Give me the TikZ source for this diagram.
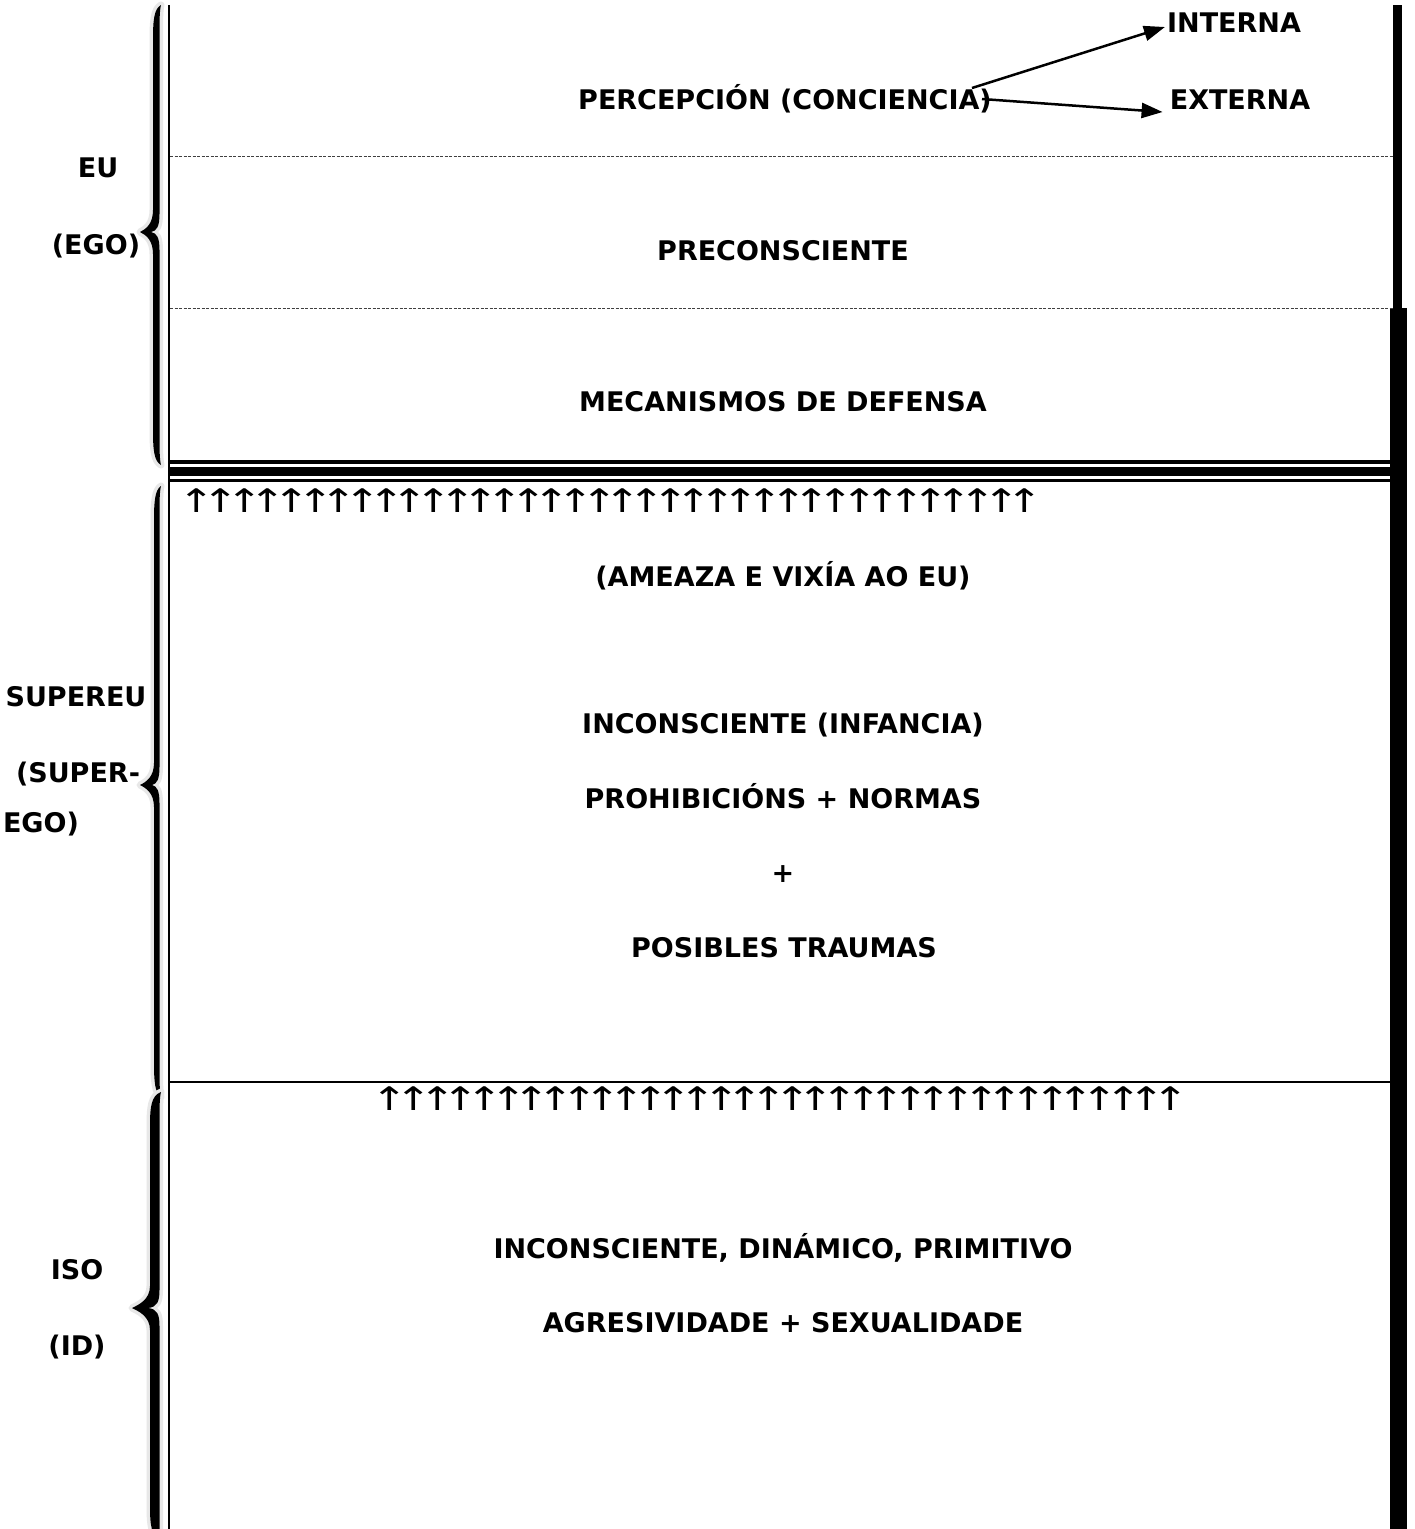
\documentclass[tikz,border=0pt]{standalone}
\usepackage{graphicx}
\usepackage{fontspec}
\setmainfont{DejaVu Sans}
\usetikzlibrary{arrows.meta}
\newcommand\mybrace[5]{%
 (161,#1) .. controls ({#4+1},{#1+4}) and (#4,{#1+15}) .. (#4,{#1+35})
 -- (#4,{#2-22}) .. controls (#4,{#2-8}) and ({#5+6},{#2-3}) .. (#5,#2)
 .. controls ({#5+6},{#2+3}) and (#4,{#2+8}) .. (#4,{#2+22})
 -- (#4,{#3-35}) .. controls (#4,{#3-15}) and ({#4+1},{#3-4}) .. (161,#3)
 .. controls (159.5,{#3-6}) and (159.5,{#3-15}) .. (159.5,{#3-35})
 -- (159.5,{#2+18}) .. controls (159.5,{#2+6}) and (157,{#2+1}) .. ({#4-2},#2)
 .. controls (157,{#2-1}) and (159.5,{#2-6}) .. (159.5,{#2-18})
 -- (159.5,{#1+35}) .. controls (159.5,{#1+15}) and (159.5,{#1+6}) .. (161,#1) -- cycle}
\newcommand\arrowrow[1]{\foreach \k in {1,...,#1}{\makebox[23.66pt]{\scalebox{1.5}[1.12]{↑}}}}
\begin{document}
\begin{tikzpicture}[x=1pt,y=-1pt,
 lbl/.style={font=\fontsize{27}{32}\selectfont\bfseries, inner sep=0pt, text height=19.7pt, text depth=0pt},
 uparrows/.style={font=\fontsize{29}{34}\selectfont, inner sep=0pt, anchor=base west},
 conn/.style={line width=2.5pt, -{Triangle[length=21pt,width=15pt]}},
 dashsep/.style={draw=black!75, line width=0.9pt, dash pattern=on 3pt off 1.5pt},
 bracehalo/.style={draw=black!9, line width=7pt, line join=round},
 bar/.style={fill=black}]
\useasboundingbox (0,0) rectangle (1414,1529);
\fill[white] (0,0) rectangle (1414,1529);

% frame lines
\draw[line width=2.5pt] (169,5) -- (169,1529);
\fill[bar] (1393,5) rectangle (1402,308);
\fill[bar] (1390,308) rectangle (1407,1529);
\draw[dashsep] (170,156) -- (1393,156);
\draw[dashsep] (170,308) -- (1393,308);
\fill[bar] (170,460) rectangle (1390,464);
\fill[bar] (170,467) rectangle (1390,476);
\fill[bar] (170,479) rectangle (1390,482);
\draw[line width=2pt] (170,1082) -- (1390,1082);

% braces
\draw[bracehalo] \mybrace{5}{232}{465}{153}{140};
\fill[black] \mybrace{5}{232}{465}{153}{140};
\draw[bracehalo] \mybrace{486}{785}{1097}{154}{140};
\fill[black] \mybrace{486}{785}{1097}{154}{140};
\draw[bracehalo] \mybrace{1092}{1308}{1540}{150}{132};
\fill[black] \mybrace{1092}{1308}{1540}{150}{132};

% left labels
\node[lbl] (eu) at (98,168) {EU};
\node[lbl] (ego) at (96,245) {(EGO)};
\node[lbl] (supereu) at (76,697) {SUPEREU};
\node[lbl] (superego1) at (78,773) {(SUPER-};
\node[lbl] (superego2) at (41,823) {EGO)};
\node[lbl] (iso) at (77,1270) {ISO};
\node[lbl] (id) at (77,1346) {(ID)};

% centre texts
\node[lbl] (perc) at (785,100) {PERCEPCIÓN (CONCIENCIA)};
\node[lbl] (interna) at (1234,23) {INTERNA};
\node[lbl] (externa) at (1240,100) {EXTERNA};
\node[lbl] (precon) at (783,251) {PRECONSCIENTE};
\node[lbl] (mecan) at (783,402) {MECANISMOS DE DEFENSA};
\node[uparrows] (arr1) at (185,512) {\arrowrow{36}};
\node[lbl] (ameaza) at (783,577) {(AMEAZA E VIXÍA AO EU)};
\node[lbl] (incinf) at (783,724) {INCONSCIENTE (INFANCIA)};
\node[lbl] (prohib) at (783,799) {PROHIBICIÓNS + NORMAS};
\node[lbl] (plus) at (783,873) {+};
\node[lbl] (traumas) at (784,948) {POSIBLES TRAUMAS};
\node[uparrows] (arr2) at (378,1110) {\arrowrow{34}};
\node[lbl] (incdin) at (783,1249) {INCONSCIENTE, DINÁMICO, PRIMITIVO};
\node[lbl] (agres) at (783,1323) {AGRESIVIDADE + SEXUALIDADE};

% connectors
\coordinate (s1) at ([xshift=-20pt,yshift=12pt]perc.east);
\coordinate (s2) at ([xshift=-10pt,yshift=1pt]perc.east);
\draw[conn] (s1) -- ([xshift=-2pt,yshift=-4pt]interna.west);
\draw[conn] (s2) -- ([xshift=-7pt,yshift=-12pt]externa.west);
\end{tikzpicture}
\end{document}
